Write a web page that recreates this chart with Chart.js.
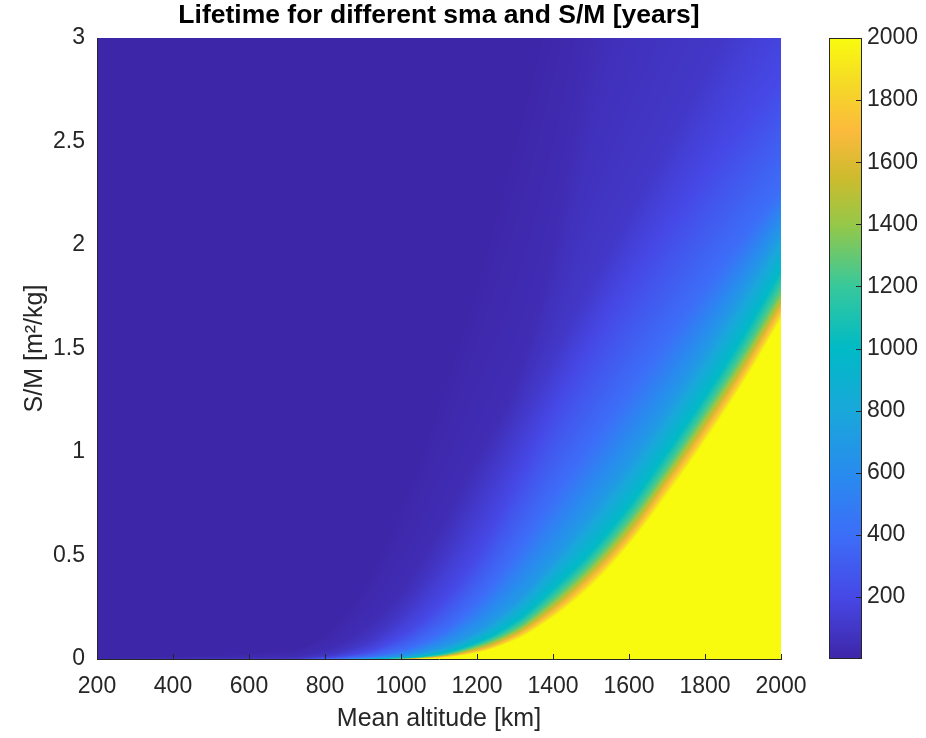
<!DOCTYPE html>
<html>
<head>
<meta charset="utf-8">
<title>Lifetime for different sma and S/M</title>
<script src="https://cdn.jsdelivr.net/npm/chart.js@4.4.1/dist/chart.umd.min.js"></script>
<style>
    html, body { margin: 0; padding: 0; background: #ffffff; }
    #wrap { width: 926px; height: 738px; }
</style>
</head>
<body>
<div id="wrap"><canvas id="lifetimeChart" width="926" height="738"></canvas></div>
<script>
// Altitudes (km) at which the iso-lifetime lines were sampled
const altitudeKm = [200, 700, 800, 900, 1000, 1100, 1200, 1300, 1400, 1500, 1600, 1700, 1800, 1900, 2000];

// Lifetime levels (years), one iso-line per level, longest first
const lifetimeLevels = [2000, 1700, 1300, 1000, 700, 400, 200, 100, 40, 0];

// S/M (m^2/kg) where the lifetime drops to each level, per altitude
const smAt2000 = [0, 0, 0, 0, 0, 0.005, 0.03, 0.09, 0.20, 0.35, 0.55, 0.79, 1.05, 1.33, 1.64];
const smAt1700 = [0, 0, 0, 0, 0, 0.010, 0.04, 0.11, 0.23, 0.39, 0.59, 0.84, 1.10, 1.38, 1.69];
const smAt1300 = [0, 0, 0, 0, 0.002, 0.015, 0.06, 0.14, 0.28, 0.45, 0.66, 0.91, 1.18, 1.46, 1.77];
const smAt1000 = [0, 0, 0, 0, 0.005, 0.025, 0.08, 0.18, 0.34, 0.52, 0.74, 1.00, 1.27, 1.56, 1.88];
const smAt700  = [0, 0, 0, 0.002, 0.012, 0.05, 0.13, 0.27, 0.47, 0.70, 0.94, 1.20, 1.48, 1.77, 2.06];
const smAt400  = [0, 0, 0, 0.008, 0.04, 0.12, 0.27, 0.50, 0.77, 1.03, 1.29, 1.54, 1.79, 2.03, 2.27];
const smAt200  = [0, 0, 0.005, 0.03, 0.11, 0.26, 0.50, 0.84, 1.20, 1.52, 1.81, 2.08, 2.34, 2.58, 2.82];
const smAt100  = [0, 0, 0.015, 0.07, 0.21, 0.45, 0.78, 1.13, 1.47, 1.82, 2.16, 2.50, 2.85, 3.20, 3.55];
const smAt40   = [0, 0.01, 0.04, 0.14, 0.32, 0.62, 0.97, 1.32, 1.95, 2.90, 3.60, 4.20, 4.80, 5.40, 6.00];
const smAt0    = [0, 0.04, 0.12, 0.35, 0.75, 1.25, 1.85, 2.55, 3.30, 4.10, 4.90, 5.70, 6.50, 7.30, 8.10];

const xTicks = [200, 400, 600, 800, 1000, 1200, 1400, 1600, 1800, 2000];
const yTicks = [0, 0.5, 1, 1.5, 2, 2.5, 3];
const cbTicks = [200, 400, 600, 800, 1000, 1200, 1400, 1600, 1800, 2000];

const contourSets = [smAt2000, smAt1700, smAt1300, smAt1000, smAt700, smAt400, smAt200, smAt100, smAt40, smAt0];

const FONT = "'Liberation Sans', Arial, Helvetica, sans-serif";
const AXIS_COLOR = "#262626";

// parula-like colour map
const mapStops = [0, 0.1, 0.2, 0.3, 0.4, 0.5, 0.6, 0.7, 0.775, 0.85, 0.92, 1];
const mapRgb = [
    [62, 38, 168], [70, 72, 230], [60, 110, 248], [40, 140, 238], [25, 168, 218], [0, 186, 198],
    [55, 200, 155], [150, 200, 72], [205, 187, 45], [252, 186, 60], [245, 215, 40], [249, 251, 14],
];

function parula(t) {
    t = Math.min(1, Math.max(0, t));
    let k = 1;
    while (k < mapStops.length - 1 && mapStops[k] < t) k++;
    const f = (t - mapStops[k - 1]) / (mapStops[k] - mapStops[k - 1]);
    const a = mapRgb[k - 1];
    const b = mapRgb[k];
    return [a[0] + (b[0] - a[0]) * f, a[1] + (b[1] - a[1]) * f, a[2] + (b[2] - a[2]) * f];
}

// monotone cubic slopes (Fritsch-Carlson) so iso-lines bend smoothly between samples
function monotoneSlopes(xs, ys) {
    const n = xs.length;
    const d = [];
    for (let i = 0; i < n - 1; i++) d.push((ys[i + 1] - ys[i]) / (xs[i + 1] - xs[i]));
    const m = [d[0]];
    for (let i = 1; i < n - 1; i++) {
        if (d[i - 1] * d[i] <= 0) {
            m.push(0);
        } else {
            const h0 = xs[i] - xs[i - 1];
            const h1 = xs[i + 1] - xs[i];
            m.push((3 * (h0 + h1)) / ((2 * h1 + h0) / d[i - 1] + (h1 + 2 * h0) / d[i]));
        }
    }
    m.push(d[n - 2]);
    return m;
}

const contourSlopes = contourSets.map((row) => monotoneSlopes(altitudeKm, row));

// S/M of every iso-line at a given altitude
function contourColumn(alt) {
    let k = 1;
    while (k < altitudeKm.length - 1 && altitudeKm[k] < alt) k++;
    const x0 = altitudeKm[k - 1];
    const dx = altitudeKm[k] - x0;
    const t = Math.min(1, Math.max(0, (alt - x0) / dx));
    const t2 = t * t;
    const t3 = t2 * t;
    let prev = -Infinity;
    return contourSets.map((row, r) => {
        const m = contourSlopes[r];
        const v = (2 * t3 - 3 * t2 + 1) * row[k - 1] + (t3 - 2 * t2 + t) * dx * m[k - 1]
            + (-2 * t3 + 3 * t2) * row[k] + (t3 - t2) * dx * m[k];
        prev = Math.max(prev, v);
        return prev;
    });
}

function lifetimeAt(col, sm) {
    if (sm <= col[0]) return lifetimeLevels[0];
    for (let k = 0; k < col.length - 1; k++) {
        if (sm <= col[k + 1]) {
            const f = (sm - col[k]) / (col[k + 1] - col[k]);
            return lifetimeLevels[k] + (lifetimeLevels[k + 1] - lifetimeLevels[k]) * f;
        }
    }
    return lifetimeLevels[lifetimeLevels.length - 1];
}

// keep Chart.js from reserving room for edge tick labels
const noEdgePadding = (s) => {
    s.paddingTop = 0;
    s.paddingBottom = 0;
    s.paddingLeft = 0;
    s.paddingRight = 0;
};

const fieldPlugin = {
    id: "lifetimeField",
    beforeDraw(chart) {
        const { ctx, chartArea: area, scales } = chart;
        const x = scales.x;
        const y = scales.y;
        const cb = scales.cb;
        const w = Math.round(area.right - area.left);
        const h = Math.round(area.bottom - area.top);
        const img = ctx.createImageData(w, h);
        const cols = [];
        for (let i = 0; i < w; i++) {
            cols.push(contourColumn(x.getValueForPixel(area.left + i + 0.5)));
        }
        for (let j = 0; j < h; j++) {
            const sm = y.getValueForPixel(area.top + j + 0.5);
            for (let i = 0; i < w; i++) {
                const v = lifetimeAt(cols[i], sm);
                const c = parula((v - cb.min) / (cb.max - cb.min));
                const p = (j * w + i) * 4;
                img.data[p] = c[0];
                img.data[p + 1] = c[1];
                img.data[p + 2] = c[2];
                img.data[p + 3] = 255;
            }
        }
        const off = document.createElement("canvas");
        off.width = w;
        off.height = h;
        off.getContext("2d").putImageData(img, 0, 0);
        ctx.drawImage(off, area.left, area.top);
    },
    afterDraw(chart) {
        const { ctx, chartArea: area, scales } = chart;
        const x = scales.x;
        const cb = scales.cb;
        ctx.save();

        // inward ticks along the altitude axis
        ctx.strokeStyle = AXIS_COLOR;
        ctx.lineWidth = 1;
        ctx.beginPath();
        xTicks.forEach((v) => {
            const px = Math.round(x.getPixelForValue(v)) + 0.5;
            ctx.moveTo(px, area.bottom);
            ctx.lineTo(px, area.bottom - 5);
        });
        ctx.stroke();

        // colour bar
        const left = area.right + 48;
        const width = 33;
        const top = cb.getPixelForValue(cb.max);
        const bottom = cb.getPixelForValue(cb.min);
        const grad = ctx.createLinearGradient(0, bottom, 0, top);
        mapStops.forEach((s, k) => {
            const c = mapRgb[k];
            grad.addColorStop(s, `rgb(${c[0]},${c[1]},${c[2]})`);
        });
        ctx.fillStyle = grad;
        ctx.fillRect(left, top, width, bottom - top);
        ctx.strokeStyle = AXIS_COLOR;
        ctx.strokeRect(left + 0.5, top + 0.5, width - 1, bottom - top - 1);
        ctx.beginPath();
        cbTicks.forEach((v) => {
            const py = Math.round(cb.getPixelForValue(v)) + 0.5;
            ctx.moveTo(left + width, py);
            ctx.lineTo(left + width - 6, py);
        });
        ctx.stroke();
        ctx.restore();
    },
};

const tickFont = { family: FONT, size: 23 };
const titleFont = { family: FONT, size: 25 };

new Chart(document.getElementById("lifetimeChart"), {
    type: "scatter",
    data: { datasets: [] },
    options: {
        responsive: false,
        animation: false,
        devicePixelRatio: 1,
        layout: { padding: 0 },
        events: [],
        plugins: {
            legend: { display: false },
            tooltip: { enabled: false },
            title: {
                display: true,
                fullSize: false,
                text: "Lifetime for different sma and S/M [years]",
                color: "#000000",
                font: { family: FONT, size: 26.5, weight: "bold" },
                padding: { top: 0, bottom: 6.2 },
            },
        },
        scales: {
            x: {
                type: "linear",
                min: 200,
                max: 2000,
                afterBuildTicks: (s) => { s.ticks = xTicks.map((v) => ({ value: v })); },
                afterFit: (s) => { s.height = 79; noEdgePadding(s); },
                grid: { display: false, drawTicks: false },
                border: { display: true, color: AXIS_COLOR, width: 1 },
                ticks: { color: AXIS_COLOR, font: tickFont, padding: 14, maxRotation: 0, autoSkip: false, callback: (v) => String(v) },
                title: { display: true, text: "Mean altitude [km]", color: AXIS_COLOR, font: titleFont, padding: { top: 0, bottom: 4 } },
            },
            y: {
                type: "linear",
                position: "left",
                min: 0,
                max: 3,
                afterBuildTicks: (s) => { s.ticks = yTicks.map((v) => ({ value: v })); },
                afterFit: (s) => { s.width = 97; noEdgePadding(s); },
                grid: { display: false, drawTicks: false },
                border: { display: true, color: AXIS_COLOR, width: 1 },
                ticks: { color: AXIS_COLOR, font: tickFont, padding: 12, autoSkip: false, callback: (v) => String(v) },
                title: { display: true, text: "S/M [m²/kg]", color: AXIS_COLOR, font: titleFont, padding: { top: 20, bottom: 0 } },
            },
            cb: {
                type: "linear",
                position: "right",
                min: 0,
                max: 2000,
                afterBuildTicks: (s) => { s.ticks = cbTicks.map((v) => ({ value: v })); },
                afterFit: (s) => { s.width = 145; noEdgePadding(s); },
                grid: { display: false, drawTicks: false },
                border: { display: false },
                ticks: { color: AXIS_COLOR, font: tickFont, padding: 86, autoSkip: false, callback: (v) => String(v) },
            },
        },
    },
    plugins: [fieldPlugin],
});
</script>
</body>
</html>
